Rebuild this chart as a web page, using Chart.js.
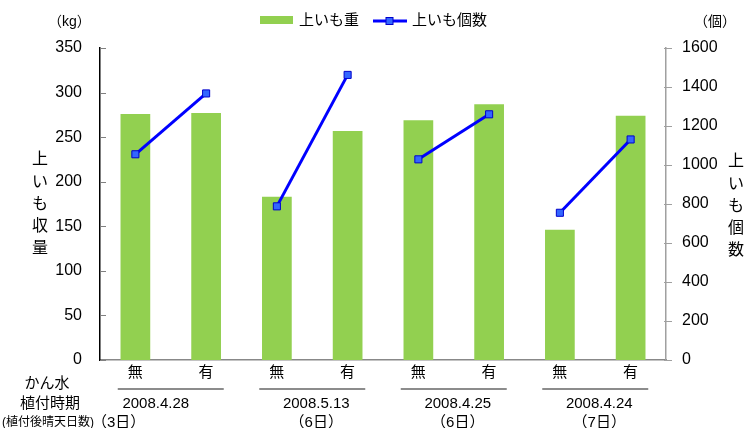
<!DOCTYPE html>
<html lang="ja">
<head>
    <meta charset="UTF-8">
    <title>上いも収量と個数</title>
    <script src="https://cdn.jsdelivr.net/npm/chart.js"></script>
    <style>
        body {
            margin: 0;
            background: #fff;
        }
        .chart-wrapper {
            position: relative;
            width: 754px;
            height: 428px;
        }
    </style>
</head>
<body>
    <div class="chart-wrapper">
        <canvas id="imoChart"></canvas>
    </div>

    <script>
        // Data
        const categories = ['無', '有', '無', '有', '無', '有', '無', '有'];
        const weightKg = [276, 277, 183, 257, 269, 287, 146, 274];
        const countPcs = [1055, 1367, 788, 1462, 1029, 1260, 755, 1131];
        const plantingDates = ['2008.4.28', '2008.5.13', '2008.4.25', '2008.4.24'];
        const sunnyDays = ['（3日）', '（6日）', '（6日）', '（7日）'];
        const rowHeaders = ['かん水', '植付時期', '(植付後晴天日数)'];
        const weightTicks = [0, 50, 100, 150, 200, 250, 300, 350];
        const countTicks = [0, 200, 400, 600, 800, 1000, 1200, 1400, 1600];

        const FONT = "'Liberation Sans', 'Noto Sans CJK JP', sans-serif";
        Chart.defaults.font.family = FONT;
        Chart.defaults.color = '#000';

        // legend, axis titles, inner tick marks and the table under the x axis
        const decorations = {
            id: 'decorations',
            afterDraw(chart) {
                const { ctx, chartArea, scales: { x, y, y1 } } = chart;
                const ds = chart.data.datasets;
                ctx.save();

                // tick marks
                ctx.lineWidth = 1;
                ctx.strokeStyle = '#808080';
                y.ticks.forEach(t => {
                    const py = Math.round(y.getPixelForValue(t.value)) + 0.5;
                    ctx.beginPath();
                    ctx.moveTo(chartArea.left, py);
                    ctx.lineTo(chartArea.left + 6, py);
                    ctx.stroke();
                });
                ctx.strokeStyle = '#a0a0a0';
                y1.ticks.forEach(t => {
                    const py = Math.round(y1.getPixelForValue(t.value)) + 0.5;
                    ctx.beginPath();
                    ctx.moveTo(chartArea.right - 2, py);
                    ctx.lineTo(chartArea.right + 6, py);
                    ctx.stroke();
                });

                // legend
                ctx.textBaseline = 'middle';
                ctx.textAlign = 'left';
                ctx.font = '15px ' + FONT;
                ctx.fillStyle = ds[1].backgroundColor;
                ctx.fillRect(260, 16, 33, 8);
                ctx.fillStyle = '#000';
                ctx.fillText(ds[1].label, 299, 21);
                ctx.strokeStyle = ds[0].borderColor;
                ctx.lineWidth = 3;
                ctx.beginPath();
                ctx.moveTo(373, 21);
                ctx.lineTo(407, 21);
                ctx.stroke();
                ctx.fillStyle = ds[0].pointBackgroundColor;
                ctx.strokeStyle = ds[0].pointBorderColor;
                ctx.lineWidth = 1;
                ctx.fillRect(386, 17.5, 7, 7);
                ctx.strokeRect(386, 17.5, 7, 7);
                ctx.fillStyle = '#000';
                ctx.fillText(ds[0].label, 412, 21);

                // units
                ctx.font = '14px ' + FONT;
                ctx.fillText('（kg）', 48, 22);
                ctx.fillText('（個）', 694, 22);

                // vertical axis titles
                ctx.font = '16px ' + FONT;
                ctx.textAlign = 'center';
                Array.from('上いも収量').forEach((ch, i) => ctx.fillText(ch, 40, 160 + i * 22.2));
                Array.from('上いも個数').forEach((ch, i) => ctx.fillText(ch, 736, 162 + i * 22.2));

                // table below the axis
                ctx.font = '15px ' + FONT;
                ctx.fillText(rowHeaders[0], 47, 384);
                ctx.fillText(rowHeaders[1], 50, 404);
                ctx.font = '12px ' + FONT;
                ctx.textAlign = 'right';
                ctx.fillText(rowHeaders[2], 94, 423);

                ctx.font = '15px ' + FONT;
                ctx.strokeStyle = '#666';
                ctx.lineWidth = 1.5;
                plantingDates.forEach((d, g) => {
                    const cx = (x.getPixelForValue(g * 2) + x.getPixelForValue(g * 2 + 1)) / 2;
                    ctx.beginPath();
                    ctx.moveTo(cx - 53, 389);
                    ctx.lineTo(cx + 53, 389);
                    ctx.stroke();
                    ctx.textAlign = 'center';
                    if (g === 0) {
                        ctx.fillText(d, cx - 15, 404);
                        ctx.textAlign = 'left';
                        ctx.fillText(sunnyDays[g], 92, 423);
                    } else {
                        ctx.fillText(d, cx + 4, 404);
                        ctx.fillText(sunnyDays[g], cx + 4, 423);
                    }
                });
                ctx.restore();
            }
        };

        const config = {
            data: {
                labels: categories,
                datasets: [
                    {
                        type: 'line',
                        label: '上いも個数',
                        data: countPcs,
                        yAxisID: 'y1',
                        order: 0,
                        borderColor: '#0000FF',
                        borderWidth: 3,
                        pointStyle: 'rect',
                        pointRadius: 5,
                        pointBackgroundColor: '#3366FF',
                        pointBorderColor: '#0000CC',
                        pointBorderWidth: 1,
                        // connect only the 無/有 pair of the same planting
                        segment: {
                            borderColor: c => (c.p0DataIndex % 2 ? 'rgba(0,0,0,0)' : undefined)
                        }
                    },
                    {
                        type: 'bar',
                        label: '上いも重',
                        data: weightKg,
                        yAxisID: 'y',
                        order: 1,
                        backgroundColor: '#92D050',
                        barPercentage: 0.42,
                        categoryPercentage: 1
                    }
                ]
            },
            options: {
                responsive: true,
                maintainAspectRatio: false,
                animation: false,
                layout: { padding: { top: 48, left: 0, right: 0, bottom: 0 } },
                plugins: {
                    legend: { display: false },
                    tooltip: { enabled: false }
                },
                scales: {
                    x: {
                        grid: { display: false, drawTicks: false },
                        border: { color: '#888', width: 1.5 },
                        ticks: { font: { size: 15 }, padding: 4, color: '#000' },
                        afterFit: s => { s.height = 68; }
                    },
                    y: {
                        position: 'left',
                        min: 0,
                        max: 350,
                        grid: { display: false, drawTicks: false },
                        border: { color: '#000', width: 1.5 },
                        ticks: { font: { size: 16 }, padding: 18, color: '#000' },
                        afterBuildTicks: s => { s.ticks = weightTicks.map(v => ({ value: v })); },
                        afterFit: s => { s.width = 100; }
                    },
                    y1: {
                        position: 'right',
                        min: 0,
                        max: 1600,
                        grid: { display: false, drawTicks: false },
                        border: { color: '#a0a0a0', width: 1.5 },
                        ticks: {
                            font: { size: 16 },
                            padding: 16,
                            color: '#000',
                            callback: v => String(v)
                        },
                        afterBuildTicks: s => { s.ticks = countTicks.map(v => ({ value: v })); },
                        afterFit: s => { s.width = 88; }
                    }
                }
            },
            plugins: [decorations]
        };

        const ctx = document.getElementById('imoChart').getContext('2d');
        const imoChart = new Chart(ctx, config);
    </script>
</body>
</html>
